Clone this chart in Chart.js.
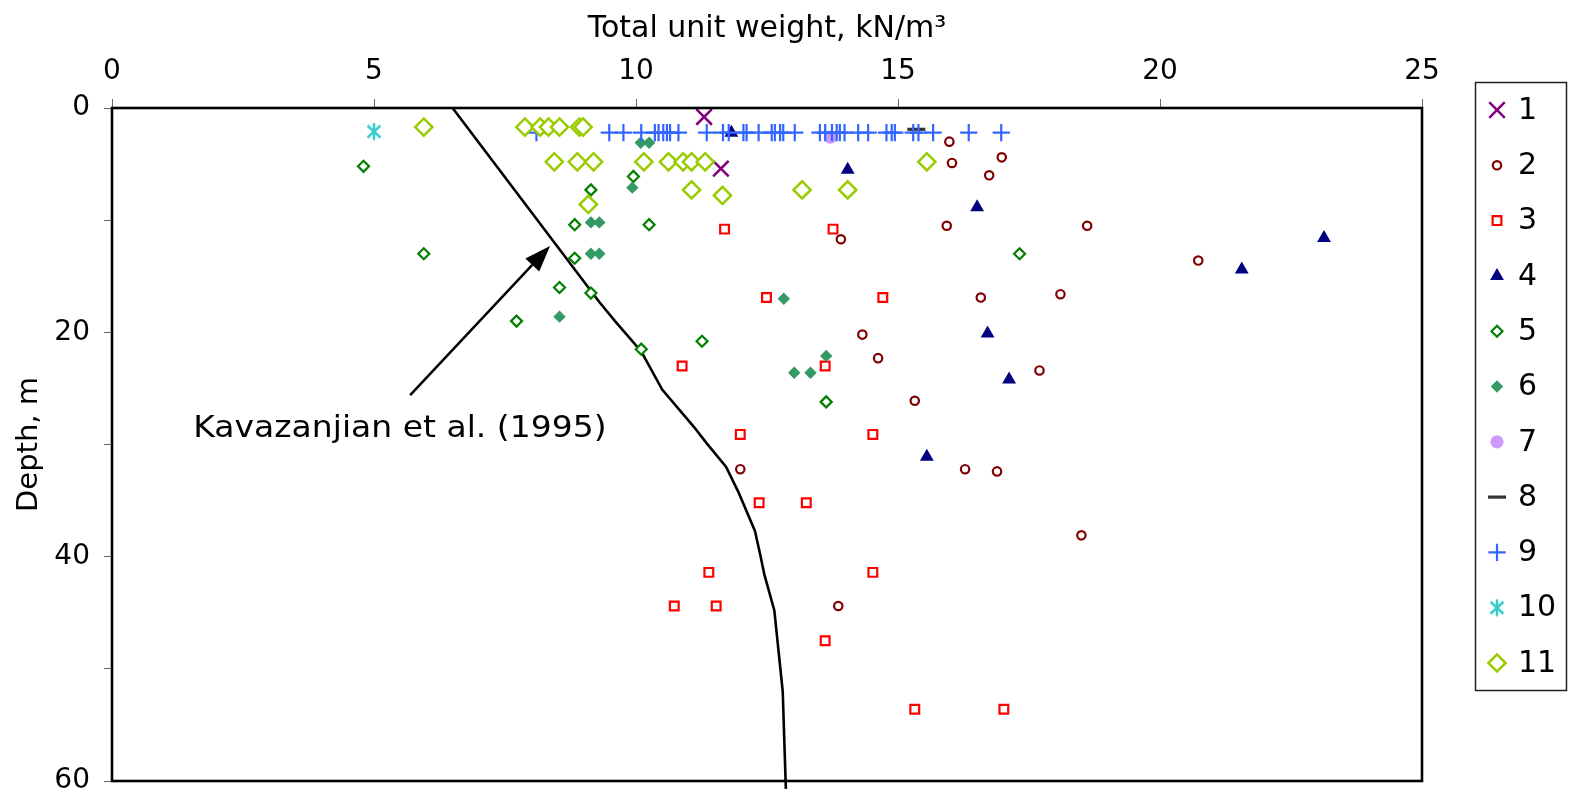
<!DOCTYPE html>
<html>
<head>
<meta charset="utf-8">
<script src="https://cdn.jsdelivr.net/npm/chart.js@4.4.1/dist/chart.umd.min.js"></script>
<style>
  html, body { margin: 0; padding: 0; background: #fff; }
  canvas { display: block; }
</style>
</head>
<body>
<canvas id="c" width="1571" height="797"></canvas>
<script>
// Total unit weight (kN/m3) against depth (m), eleven site data sets
const w1 = [11.30, 11.62];
const d1 = [0.8, 5.4];

const w2 = [15.98, 16.03, 16.98, 16.74, 15.93, 18.61, 13.91, 20.73, 16.58, 18.10, 14.32, 14.62, 17.70, 15.32, 16.28, 16.89, 11.99, 18.50, 13.86];
const d2 = [3.0, 4.9, 4.4, 6.0, 10.5, 10.5, 11.7, 13.6, 16.9, 16.6, 20.2, 22.3, 23.4, 26.1, 32.2, 32.4, 32.2, 38.1, 44.4];

const w3 = [11.69, 13.76, 12.49, 14.71, 10.88, 13.61, 11.99, 14.52, 12.35, 13.25, 11.39, 14.52, 10.73, 11.53, 13.61, 15.32, 17.02];
const d3 = [10.8, 10.8, 16.9, 16.9, 23.0, 23.0, 29.1, 29.1, 35.2, 35.2, 41.4, 41.4, 44.4, 44.4, 47.5, 53.6, 53.6];

const w4 = [11.82, 14.04, 16.51, 23.13, 21.56, 16.71, 17.12, 15.55];
const d4 = [2.2, 5.5, 8.85, 11.6, 14.4, 20.1, 24.2, 31.1];

const w5 = [4.80, 9.95, 9.14, 8.83, 10.25, 5.95, 8.83, 17.32, 8.54, 9.14, 7.72, 11.26, 10.10, 13.63];
const d5 = [5.2, 6.1, 7.3, 10.4, 10.4, 13.0, 13.4, 13.0, 16.0, 16.5, 19.0, 20.8, 21.5, 26.2];

const w6 = [10.09, 10.25, 9.93, 9.14, 9.30, 9.14, 9.30, 12.82, 8.54, 13.63, 13.02, 13.33];
const d6 = [3.1, 3.1, 7.1, 10.2, 10.2, 13.0, 13.0, 17.0, 18.6, 22.1, 23.6, 23.6];

const w7 = [13.71];
const d7 = [2.6];

const w8 = [15.35];
const d8 = [1.9];

const w9 = [8.10, 9.49, 9.76, 10.10, 10.36, 10.43, 10.52, 10.59, 10.65, 10.81, 11.35, 11.66, 11.77, 12.05, 12.11, 12.34,
            12.59, 12.65, 12.75, 12.81, 13.03, 13.51, 13.61, 13.74, 13.83, 13.89, 13.98, 14.24, 14.43, 14.78, 14.88,
            14.94, 15.29, 15.39, 15.67, 16.35, 16.97];
const d9 = w9.map(() => 2.2);

const w10 = [5.0];
const d10 = [2.1];

const w11 = [5.95, 7.88, 8.17, 8.33, 8.54, 8.92, 8.99, 8.44, 8.88, 9.19, 10.15, 10.62, 10.90, 11.06, 11.32, 15.55, 11.06, 11.65, 13.17, 14.04, 9.09];
const d11 = [1.7, 1.7, 1.7, 1.7, 1.7, 1.7, 1.7, 4.8, 4.8, 4.8, 4.8, 4.8, 4.8, 4.8, 4.8, 4.8, 7.3, 7.8, 7.3, 7.3, 8.6];

// Kavazanjian et al. (1995) unit weight profile
const kavW = [6.5, 9.3, 9.6, 10.1, 10.5, 11.1, 11.35, 11.72, 11.95, 12.27, 12.37, 12.45, 12.64, 12.8, 12.86];
const kavD = [0, 17.3, 19.0, 21.7, 25.1, 28.4, 29.9, 32.0, 34.2, 37.7, 39.8, 41.6, 44.8, 52.0, 60.7];

const seriesNames = ['1', '2', '3', '4', '5', '6', '7', '8', '9', '10', '11'];
const xTicks = [0, 5, 10, 15, 20, 25];
const yTicks = [0, 20, 40, 60];

const pairs = (xs, ys) => xs.map((x, i) => ({ x: x, y: ys[i] }));

// six-armed asterisk marker
function asterisk(color) {
  const c = document.createElement('canvas');
  c.width = 20; c.height = 20;
  const g = c.getContext('2d');
  g.strokeStyle = color; g.lineWidth = 2.4; g.lineCap = 'butt';
  g.beginPath();
  g.moveTo(10, 1.5); g.lineTo(10, 18.5);
  g.moveTo(3.5, 4); g.lineTo(16.5, 16);
  g.moveTo(16.5, 4); g.lineTo(3.5, 16);
  g.stroke();
  return c;
}

const styles = [
  { style: 'crossRot', r: 11, bw: 2.5, stroke: '#800080', fill: '#800080' },
  { style: 'circle', r: 4.2, bw: 2.2, stroke: '#800000', fill: '#ffffff' },
  { style: 'rect', r: 6.2, bw: 2.2, stroke: '#ff0000', fill: '#ffffff' },
  { style: 'triangle', r: 8, bw: 0, stroke: '#000080', fill: '#000080' },
  { style: 'rectRot', r: 5.5, bw: 2.2, stroke: '#008000', fill: '#ffffff' },
  { style: 'rectRot', r: 6.2, bw: 0, stroke: '#339966', fill: '#339966' },
  { style: 'circle', r: 6.6, bw: 0, stroke: '#cc99ff', fill: '#cc99ff' },
  { style: 'line', r: 9, bw: 3.2, stroke: '#333333', fill: '#333333' },
  { style: 'cross', r: 8.6, bw: 2.2, stroke: '#3366ff', fill: '#3366ff' },
  { style: asterisk('#33cccc'), r: 9, bw: 0, stroke: '#33cccc', fill: '#33cccc' },
  { style: 'rectRot', r: 8.6, bw: 2.5, stroke: '#99cc00', fill: '#ffffff' }
];

const seriesW = [w1, w2, w3, w4, w5, w6, w7, w8, w9, w10, w11];
const seriesD = [d1, d2, d3, d4, d5, d6, d7, d8, d9, d10, d11];

const datasets = seriesNames.map((name, i) => ({
  label: name,
  data: pairs(seriesW[i], seriesD[i]),
  pointStyle: styles[i].style,
  pointRadius: styles[i].r,
  pointHoverRadius: styles[i].r,
  pointBorderWidth: styles[i].bw,
  borderColor: styles[i].stroke,
  backgroundColor: styles[i].fill,
  pointBorderColor: styles[i].stroke,
  pointBackgroundColor: styles[i].fill,
  showLine: false,
  order: 10 - i
}));

datasets.push({
  label: 'Kavazanjian et al. (1995)',
  data: pairs(kavW, kavD),
  showLine: true,
  borderColor: '#000000',
  borderWidth: 2.6,
  pointRadius: 0,
  tension: 0,
  clip: false,
  order: 50
});

Chart.defaults.font.family = "'DejaVu Sans', Verdana, sans-serif";
Chart.defaults.color = '#000';

// plot frame
const framePlugin = {
  id: 'frame',
  afterDatasetsDraw(chart) {
    const { ctx, chartArea: a } = chart;
    ctx.save();
    ctx.strokeStyle = '#000';
    ctx.lineWidth = 2.6;
    ctx.strokeRect(a.left, a.top, a.right - a.left, a.bottom - a.top);
    ctx.restore();
  }
};

// arrow and label for the reference profile
const notePlugin = {
  id: 'note',
  afterDatasetsDraw(chart) {
    const { ctx, scales: { x, y } } = chart;
    const x0 = x.getPixelForValue(5.69), y0 = y.getPixelForValue(25.6);
    const x1 = x.getPixelForValue(8.36), y1 = y.getPixelForValue(12.3);
    const ang = Math.atan2(y1 - y0, x1 - x0);
    const headL = 26, headW = 9.5;
    const bx = x1 - headL * Math.cos(ang), by = y1 - headL * Math.sin(ang);
    ctx.save();
    ctx.strokeStyle = '#000';
    ctx.fillStyle = '#000';
    ctx.lineWidth = 2.5;
    ctx.beginPath();
    ctx.moveTo(x0, y0);
    ctx.lineTo(bx, by);
    ctx.stroke();
    ctx.beginPath();
    ctx.moveTo(x1, y1);
    ctx.lineTo(bx + headW * Math.sin(ang), by - headW * Math.cos(ang));
    ctx.lineTo(bx - headW * Math.sin(ang), by + headW * Math.cos(ang));
    ctx.closePath();
    ctx.fill();
    ctx.font = "30px 'DejaVu Sans', Verdana, sans-serif";
    ctx.textAlign = 'left';
    ctx.textBaseline = 'alphabetic';
    ctx.translate(x.getPixelForValue(1.55), y.getPixelForValue(29.3));
    ctx.scale(1.1, 1);
    ctx.fillText('Kavazanjian et al. (1995)', 0, 0);
    ctx.restore();
  }
};

// boxed legend on the right
const legendPlugin = {
  id: 'boxLegend',
  afterDraw(chart) {
    const { ctx } = chart;
    ctx.save();
    ctx.setTransform(1, 0, 0, 1, 0, 0);
    ctx.strokeStyle = '#222';
    ctx.lineWidth = 1.5;
    ctx.strokeRect(1475.5, 82.5, 91, 608);
    ctx.font = "30px 'DejaVu Sans', Verdana, sans-serif";
    ctx.textAlign = 'left';
    ctx.textBaseline = 'middle';
    seriesNames.forEach((name, i) => {
      const cy = 110 + i * 55.3;
      const s = styles[i];
      ctx.save();
      ctx.strokeStyle = s.stroke;
      ctx.fillStyle = s.fill;
      ctx.lineWidth = s.bw;
      Chart.helpers.drawPoint(ctx, { pointStyle: s.style, radius: s.r, rotation: 0, borderWidth: s.bw }, 1497, cy);
      ctx.restore();
      ctx.fillStyle = '#000';
      ctx.fillText(name, 1518, cy + 1);
    });
    ctx.restore();
  }
};

new Chart(document.getElementById('c'), {
  type: 'scatter',
  data: { datasets: datasets },
  options: {
    responsive: false,
    animation: false,
    devicePixelRatio: 1,
    layout: { padding: { left: 0, right: 149, top: 0, bottom: 16 } },
    plugins: {
      legend: { display: false },
      tooltip: { enabled: false }
    },
    scales: {
      x: {
        type: 'linear',
        position: 'top',
        min: 0,
        max: 25,
        afterBuildTicks(scale) { scale.ticks = xTicks.map(v => ({ value: v })); },
        afterFit(scale) { scale.height = 108; },
        ticks: { font: { size: 28 }, padding: 10, color: '#000' },
        grid: { display: true, drawOnChartArea: false, drawTicks: true, tickLength: 9, color: '#666', lineWidth: 1 },
        border: { display: false },
        title: {
          display: true,
          text: 'Total unit weight, kN/m³',
          font: { size: 30 },
          color: '#000',
          padding: { top: 11, bottom: 0 }
        }
      },
      y: {
        type: 'linear',
        reverse: true,
        min: 0,
        max: 60,
        afterBuildTicks(scale) { scale.ticks = [0, 10, 20, 30, 40, 50, 60].map(v => ({ value: v })); },
        afterFit(scale) { scale.width = 112; scale.paddingBottom = 0; },
        ticks: {
          font: { size: 28 },
          padding: 14,
          color: '#000',
          callback: v => (yTicks.includes(v) ? String(v) : '')
        },
        grid: { display: true, drawOnChartArea: false, drawTicks: true, tickLength: 8, color: '#666', lineWidth: 1 },
        border: { display: false },
        title: {
          display: true,
          text: 'Depth, m',
          font: { size: 29 },
          color: '#000',
          padding: { top: 12, bottom: 0 }
        }
      }
    }
  },
  plugins: [framePlugin, notePlugin, legendPlugin]
});
</script>
</body>
</html>
